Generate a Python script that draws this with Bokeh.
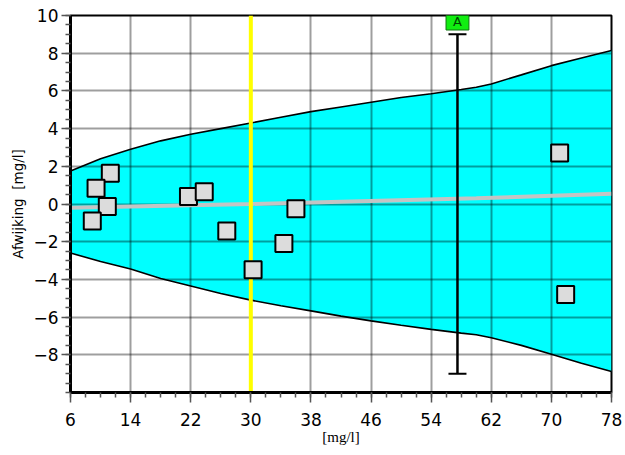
from bokeh.plotting import figure
from bokeh.models import Range1d, FixedTicker, Label
from bokeh.embed import file_html
from bokeh.resources import INLINE

# ---- data ----
x_ticks = [6, 14, 22, 30, 38, 46, 54, 62, 70, 78]
y_ticks = [-8, -6, -4, -2, 0, 2, 4, 6, 8, 10]
x_min, x_max = 6, 78
y_min, y_max = -10, 10

band_x = [6, 10, 14, 18, 22, 26, 30, 34, 38, 42, 46, 50, 54, 58, 60, 62, 66, 70, 74, 78]
band_upper = [1.75, 2.4, 2.9, 3.35, 3.7, 4.0, 4.3, 4.6, 4.9, 5.15, 5.4, 5.65, 5.85, 6.07, 6.19, 6.37, 6.85, 7.34, 7.75, 8.14]
band_lower = [-2.6, -3.05, -3.45, -3.95, -4.35, -4.75, -5.1, -5.4, -5.67, -5.95, -6.2, -6.43, -6.65, -6.85, -6.94, -7.1, -7.5, -7.97, -8.45, -8.89]

mean_x = [6, 30, 60, 78]
mean_y = [-0.2, 0.0, 0.3, 0.55]

pts_x = [11.3, 9.4, 10.9, 8.9, 21.7, 23.8, 26.8, 30.3, 36.0, 34.4, 71.1, 71.9]
pts_y = [1.63, 0.83, -0.13, -0.9, 0.4, 0.65, -1.43, -3.49, -0.25, -2.09, 2.7, -4.8]

ref_x = [30]
err_x = [57.5]
err_lo = [-9.0]
err_hi = [9.0]
err_label = "A"

font = "DejaVu Sans"

p = figure(width=624, height=452, output_backend="svg", toolbar_location=None,
           x_range=Range1d(x_min, x_max), y_range=Range1d(y_min, y_max),
           min_border_left=70, min_border_right=13, min_border_top=15, min_border_bottom=60)
p.background_fill_color = "white"
p.border_fill_color = "white"
p.outline_line_color = "black"
p.outline_line_width = 2

# band
p.varea(x=band_x, y1=band_lower, y2=band_upper, fill_color="#00ffff", level="image")
p.line(band_x, band_upper, line_color="black", line_width=1.6)
p.line(band_x, band_lower, line_color="black", line_width=1.6)

# mean line
p.line(mean_x, mean_y, line_color="#c4c4c4", line_width=4)

# reference vertical line
p.segment(x0=ref_x, y0=[y_min], x1=ref_x, y1=[y_max], line_color="#ffff00", line_width=4)

# error bar
p.segment(x0=err_x, y0=err_lo, x1=err_x, y1=err_hi, line_color="black", line_width=2.5)
p.scatter(x=err_x + err_x, y=err_lo + err_hi, marker="dash", size=18, line_color="black", line_width=2)

# points
p.scatter(x=pts_x, y=pts_y, marker="square", size=17, fill_color="#dcdcdc",
          line_color="black", line_width=2)

lab = Label(x=err_x[0], y=y_max, text=err_label, x_units="data", y_units="data",
            text_align="center", text_baseline="middle", y_offset=-6,
            text_font=font, text_font_size="13px", text_color="#004400",
            background_fill_color="#11ee11", border_line_color="#117711",
            padding=dict(left=7, right=7, top=1, bottom=1))
p.add_layout(lab)

# grid
p.xgrid.ticker = FixedTicker(ticks=x_ticks)
p.ygrid.ticker = FixedTicker(ticks=y_ticks)
for g in (p.xgrid, p.ygrid):
    g.grid_line_color = "black"
    g.grid_line_alpha = 0.38
    g.grid_line_width = 2

# axes
p.xaxis.ticker = FixedTicker(ticks=x_ticks, minor_ticks=list(range(6, 79, 2)))
p.yaxis.ticker = FixedTicker(ticks=y_ticks, minor_ticks=[v / 2 for v in range(-20, 21)])
for ax in (p.xaxis, p.yaxis):
    ax.axis_line_color = "black"
    ax.axis_line_width = 3
    ax.major_tick_line_color = "#555555"
    ax.minor_tick_line_color = "#555555"
    ax.major_tick_line_width = 1.5
    ax.minor_tick_line_width = 1.5
    ax.major_tick_in = 0
    ax.minor_tick_in = 0
    ax.major_label_text_font = font
    ax.major_label_text_font_size = "17px"
    ax.major_label_text_color = "black"
    ax.axis_label_text_font_style = "normal"
    ax.axis_label_text_color = "black"

p.xaxis.major_tick_out = 10
p.xaxis.minor_tick_out = 5
p.xaxis.major_label_standoff = 10
p.xaxis.axis_label = "[mg/l]"
p.xaxis.axis_label_text_font = "Liberation Serif"
p.xaxis.axis_label_text_font_size = "15px"
p.xaxis.axis_label_standoff = 0

p.yaxis.major_tick_out = 9
p.yaxis.minor_tick_out = 5
p.yaxis.major_label_standoff = 3
p.yaxis.axis_label = "Afwijking\u00a0 [mg/l]"
p.yaxis.axis_label_text_font = font
p.yaxis.axis_label_text_font_size = "13.5px"
p.yaxis.axis_label_standoff = 4

open("out.html", "w").write(file_html(p, INLINE))
